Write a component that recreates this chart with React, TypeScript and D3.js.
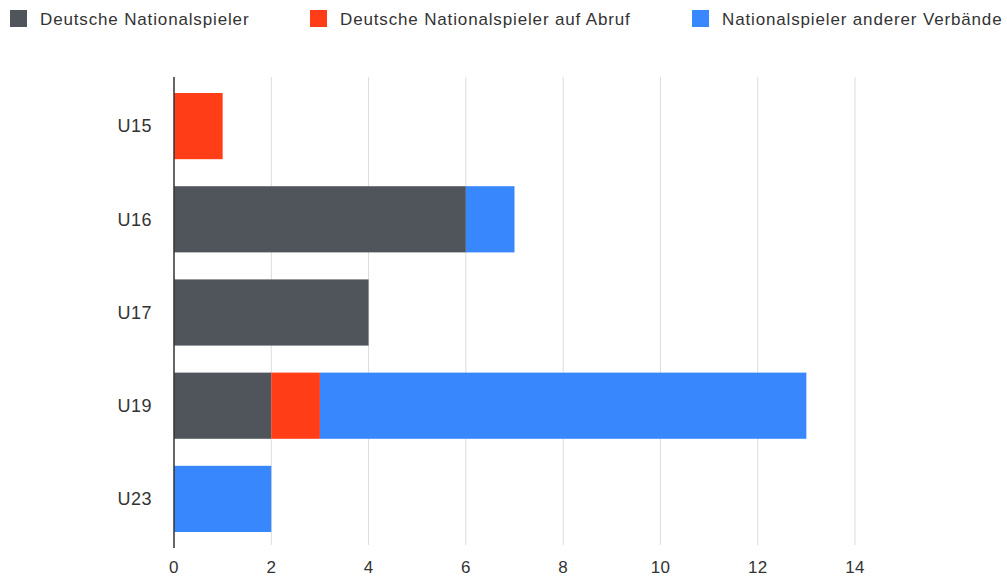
import React from "react";
import * as d3 from "d3";

const categories = ["U15", "U16", "U17", "U19", "U23"];
const seriesNames = [
  "Deutsche Nationalspieler",
  "Deutsche Nationalspieler auf Abruf",
  "Nationalspieler anderer Verbände",
];
const nationalspieler = [0, 6, 4, 2, 0];
const aufAbruf = [1, 0, 0, 1, 0];
const andereVerbaende = [0, 1, 0, 10, 2];
const xTicks = [0, 2, 4, 6, 8, 10, 12, 14];
const colors = ["#4f555b", "#ff3d17", "#3887fd"];

const W = 1007;
const H = 579;
const FONT = "'Helvetica Neue', Helvetica, 'Liberation Sans', Arial, sans-serif";

export default function App() {
  const rows = categories.map((c, i) => ({
    cat: c,
    s0: nationalspieler[i],
    s1: aufAbruf[i],
    s2: andereVerbaende[i],
  }));
  const stack = d3.stack<any>().keys(["s0", "s1", "s2"]);
  const layers = stack(rows);

  const x = d3.scaleLinear().domain([0, 14]).range([174, 855]);
  const y = d3
    .scaleBand<string>()
    .domain(categories)
    .range([79.5, 545.5])
    .paddingInner(0.29)
    .paddingOuter(0.145);

  const legendX = [10, 310, 692];

  return (
    <div style={{ position: "absolute", left: 0, top: 0 }}>
      <svg width={W} height={H} style={{ display: "block", background: "#fff" }} fontFamily={FONT}>
        {/* legend */}
        {seriesNames.map((name, i) => (
          <g key={name} transform={`translate(${legendX[i]},10)`}>
            <rect width={17} height={17} fill={colors[i]} />
            <text x={30} y={9} dy="0.35em" fontSize={17} letterSpacing={0.85} fill="#333">
              {name}
            </text>
          </g>
        ))}

        {/* grid */}
        {xTicks.slice(1).map((t) => (
          <line key={t} x1={x(t)} x2={x(t)} y1={77} y2={545} stroke="#dcdcdc" strokeWidth={1} />
        ))}

        {/* bars */}
        {layers.map((layer, li) => (
          <g key={layer.key} fill={colors[li]}>
            {layer.map((d, i) =>
              d[1] - d[0] > 0 ? (
                <rect
                  key={i}
                  x={x(d[0])}
                  y={y(categories[i])}
                  width={x(d[1]) - x(d[0])}
                  height={y.bandwidth()}
                />
              ) : null
            )}
          </g>
        ))}

        {/* axis line */}
        <line x1={x(0)} x2={x(0)} y1={77} y2={548} stroke="#333" strokeWidth={1.5} />

        {/* x tick labels */}
        {xTicks.map((t) => (
          <text key={t} x={x(t)} y={567} dy="0.35em" textAnchor="middle" fontSize={17} letterSpacing={0.3} fill="#333">
            {t}
          </text>
        ))}

        {/* category labels */}
        {categories.map((c) => (
          <text
            key={c}
            x={152}
            y={(y(c) ?? 0) + y.bandwidth() / 2}
            dy="0.35em"
            textAnchor="end"
            fontSize={18}
            letterSpacing={0.5}
            fill="#333"
          >
            {c}
          </text>
        ))}
      </svg>
    </div>
  );
}
